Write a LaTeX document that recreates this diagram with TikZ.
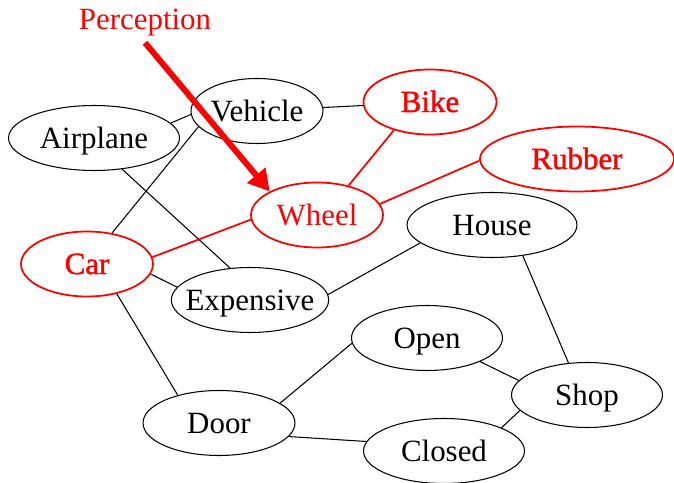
\documentclass[tikz,border=0pt]{standalone}
\usepackage{fontspec}
\setmainfont{Liberation Serif}
\newfontfamily\heavyfont[FakeBold=1.5]{Liberation Serif}
\usepackage{tikz}
\usetikzlibrary{arrows.meta, shapes.geometric}
\definecolor{focus}{HTML}{FF0000}

\begin{document}
\begin{tikzpicture}[x=0.02cm, y=-0.02cm, font=\fontsize{17.6}{21}\selectfont,
  concept/.style={ellipse, draw, line width=0.6pt, minimum height=1.3cm, inner xsep=-5pt, inner ysep=0pt,
    text height=15pt, text depth=3.6pt},
  hot/.style={concept, draw=focus, text=focus, line width=1pt},
  ln/.style={line width=0.6pt},
  hl/.style={line width=1pt, focus},
  pa/.style={-{Triangle[length=12pt, width=13pt]}, line width=3.4pt, focus}]
  \useasboundingbox (0,0) rectangle (674,483);
  \node[concept, minimum width=3.42cm] (airplane) at (94,138) {Airplane};
  \node[concept, minimum width=2.64cm] (vehicle) at (257,111) {Vehicle};
  \node[hot, minimum width=2.66cm] (bike) at (430,102) {\heavyfont Bike};
  \node[hot, minimum width=3.88cm] (rubber) at (577,159) {\heavyfont Rubber};
  \node[hot, minimum width=2.64cm] (wheel) at (317,215) {Wheel};
  \node[concept, minimum width=3.4cm] (house) at (492,225) {House};
  \node[hot, minimum width=2.64cm] (car) at (87,264) {\heavyfont Car};
  \node[concept, minimum width=3.12cm] (expensive) at (250,300) {Expensive};
  \node[concept, minimum width=3.02cm] (open) at (427,338) {Open};
  \node[concept, minimum width=3.02cm] (shop) at (587,395) {Shop};
  \node[concept, minimum width=3.04cm] (door) at (219,423) {Door};
  \node[concept, minimum width=3.22cm] (closed) at (444,451) {Closed};
  \node[text=focus] (perception) at (145,23) {Perception};
  % edges leave the ellipses at fixed border angles
  \foreach \a/\b in {airplane.11/vehicle.183, airplane.-48/expensive.122, vehicle.195/car.51,
    vehicle.3/bike.183, car.-9/expensive.170, car.-45/door.146, expensive.4/house.194,
    house.-45/shop.120, open.-24/shop.168, open.184/door.18, door.-11/closed.173, closed.22/shop.193}
    \draw[ln] (\a) -- (\b);
  \foreach \a/\b in {bike.218/wheel.43, rubber.181/wheel.10, wheel.184/car.6} \draw[hl] (\a) -- (\b);
  \draw[pa] (perception.south) -- (wheel.north west);
\end{tikzpicture}
\end{document}
